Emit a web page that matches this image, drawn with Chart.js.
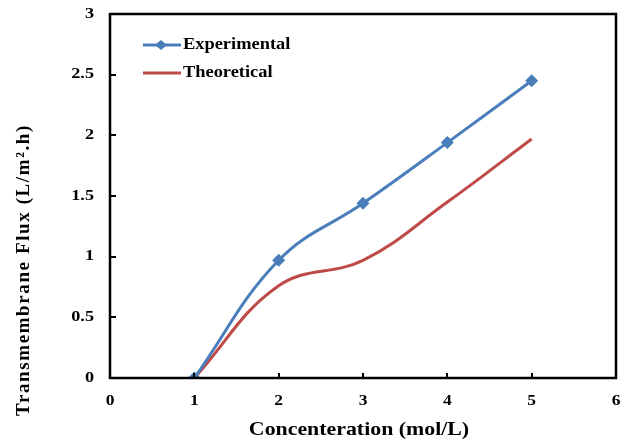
<!DOCTYPE html>
<html>
<head>
<meta charset="utf-8">
<script src="https://cdn.jsdelivr.net/npm/chart.js@4.4.1/dist/chart.umd.min.js"></script>
<style>
  html, body { margin: 0; padding: 0; background: #fff; }
  #wrap { width: 628px; height: 441px; }
</style>
</head>
<body>
<div id="wrap"><canvas id="grafico" width="628" height="441"></canvas></div>
<script>
// valores
const concentracao = [1, 2, 3, 4, 5];
const experimental = [0, 0.97, 1.44, 1.94, 2.45];
const teorico = [0, 0.76, 0.97, 1.45, 1.97];
const ticksX = [0, 1, 2, 3, 4, 5, 6];
const ticksY = [0, 0.5, 1, 1.5, 2, 2.5, 3];
const rotulosX = ['0', '1', '2', '3', '4', '5', '6'];
const rotulosY = ['0', '0.5', '1', '1.5', '2', '2.5', '3'];

const FONTE = '"Liberation Serif", "Times New Roman", serif';
const AZUL = '#4a7ebb';
const VERMELHO = '#be4b48';

// texto com esticamento horizontal (a figura original esta esticada)
function texto(ctx, str, x, y, tam, sx, align) {
    ctx.save();
    ctx.font = 'bold ' + tam + 'px ' + FONTE;
    ctx.textBaseline = 'middle';
    ctx.textAlign = align;
    ctx.translate(x, y);
    ctx.scale(sx, 1);
    ctx.fillStyle = '#000';
    ctx.fillText(str, 0, 0);
    ctx.restore();
}

// caixa preta, marcas dos eixos e rotulos
const moldura = {
    id: 'moldura',
    afterDatasetsDraw(chart) {
        const { ctx, chartArea: a } = chart;
        const sx = chart.scales.x, sy = chart.scales.y;
        ctx.save();
        ctx.strokeStyle = '#000';
        ctx.lineWidth = 2.5;
        ctx.strokeRect(a.left, a.top, a.right - a.left, a.bottom - a.top);
        ctx.lineWidth = 2;
        sy.ticks.forEach(t => {
            const y = Math.round(sy.getPixelForValue(t.value));
            ctx.beginPath();
            ctx.moveTo(a.left, y);
            ctx.lineTo(a.left + 6, y);
            ctx.stroke();
        });
        sx.ticks.forEach(t => {
            const x = Math.round(sx.getPixelForValue(t.value));
            ctx.beginPath();
            ctx.moveTo(x, a.bottom);
            ctx.lineTo(x, a.bottom - 5);
            ctx.stroke();
        });
        ctx.restore();
        sy.ticks.forEach((t, i) => texto(ctx, rotulosY[i], 94, sy.getPixelForValue(t.value), 14, 1.3, 'right'));
        sx.ticks.forEach((t, i) => texto(ctx, rotulosX[i], sx.getPixelForValue(t.value), 401, 14, 1.25, 'center'));
    }
};

// legenda dentro da area e titulos dos eixos
const textos = {
    id: 'textos',
    afterDraw(chart) {
        const ctx = chart.ctx;
        chart.data.datasets.forEach((ds, i) => {
            const y = 45 + i * 28;
            ctx.save();
            ctx.strokeStyle = ds.borderColor;
            ctx.lineWidth = 3;
            ctx.beginPath();
            ctx.moveTo(143, y);
            ctx.lineTo(181, y);
            ctx.stroke();
            if (ds.pointRadius > 0) {
                ctx.fillStyle = ds.borderColor;
                ctx.beginPath();
                ctx.moveTo(161, y - 5);
                ctx.lineTo(167, y);
                ctx.lineTo(161, y + 5);
                ctx.lineTo(155, y);
                ctx.closePath();
                ctx.fill();
            }
            ctx.restore();
            texto(ctx, ds.label, 183, y, 16, 1.15, 'left');
        });

        texto(ctx, 'Concenteration (mol/L)', 359, 430, 19, 1.15, 'center');

        ctx.save();
        ctx.translate(24, 270);
        ctx.rotate(-Math.PI / 2);
        ctx.font = 'bold 19px ' + FONTE;
        ctx.letterSpacing = '1.6px';
        ctx.textAlign = 'center';
        ctx.textBaseline = 'middle';
        ctx.fillStyle = '#000';
        ctx.fillText('Transmembrane Flux (L/m\u00B2.h)', 0, 0);
        ctx.restore();
    }
};

const chart = new Chart(document.getElementById('grafico').getContext('2d'), {
    type: 'line',
    data: {
        datasets: [{
            label: 'Experimental',
            data: concentracao.map((x, i) => ({ x: x, y: experimental[i] })),
            borderColor: AZUL,
            backgroundColor: AZUL,
            borderWidth: 3,
            pointStyle: 'rectRot',
            pointRadius: 6.5,
            pointBorderWidth: 0,
            tension: 0.4,
            fill: false
        }, {
            label: 'Theoretical',
            data: concentracao.map((x, i) => ({ x: x, y: teorico[i] })),
            borderColor: VERMELHO,
            backgroundColor: VERMELHO,
            borderWidth: 3,
            pointRadius: 0,
            tension: 0.4,
            fill: false
        }]
    },
    options: {
        responsive: false,
        animation: false,
        layout: { padding: { top: 14, right: 12, left: 0, bottom: 0 } },
        plugins: { legend: { display: false }, tooltip: { enabled: false } },
        scales: {
            x: {
                type: 'linear',
                min: 0,
                max: 6,
                afterBuildTicks: axis => { axis.ticks = ticksX.map(v => ({ value: v })); },
                afterFit: axis => { axis.height = 63; },
                grid: { display: false },
                border: { display: false },
                ticks: { display: false }
            },
            y: {
                min: 0,
                max: 3,
                afterBuildTicks: axis => { axis.ticks = ticksY.map(v => ({ value: v })); },
                afterFit: axis => { axis.width = 110; },
                grid: { display: false },
                border: { display: false },
                ticks: { display: false }
            }
        }
    },
    plugins: [moldura, textos]
});
</script>
</body>
</html>
